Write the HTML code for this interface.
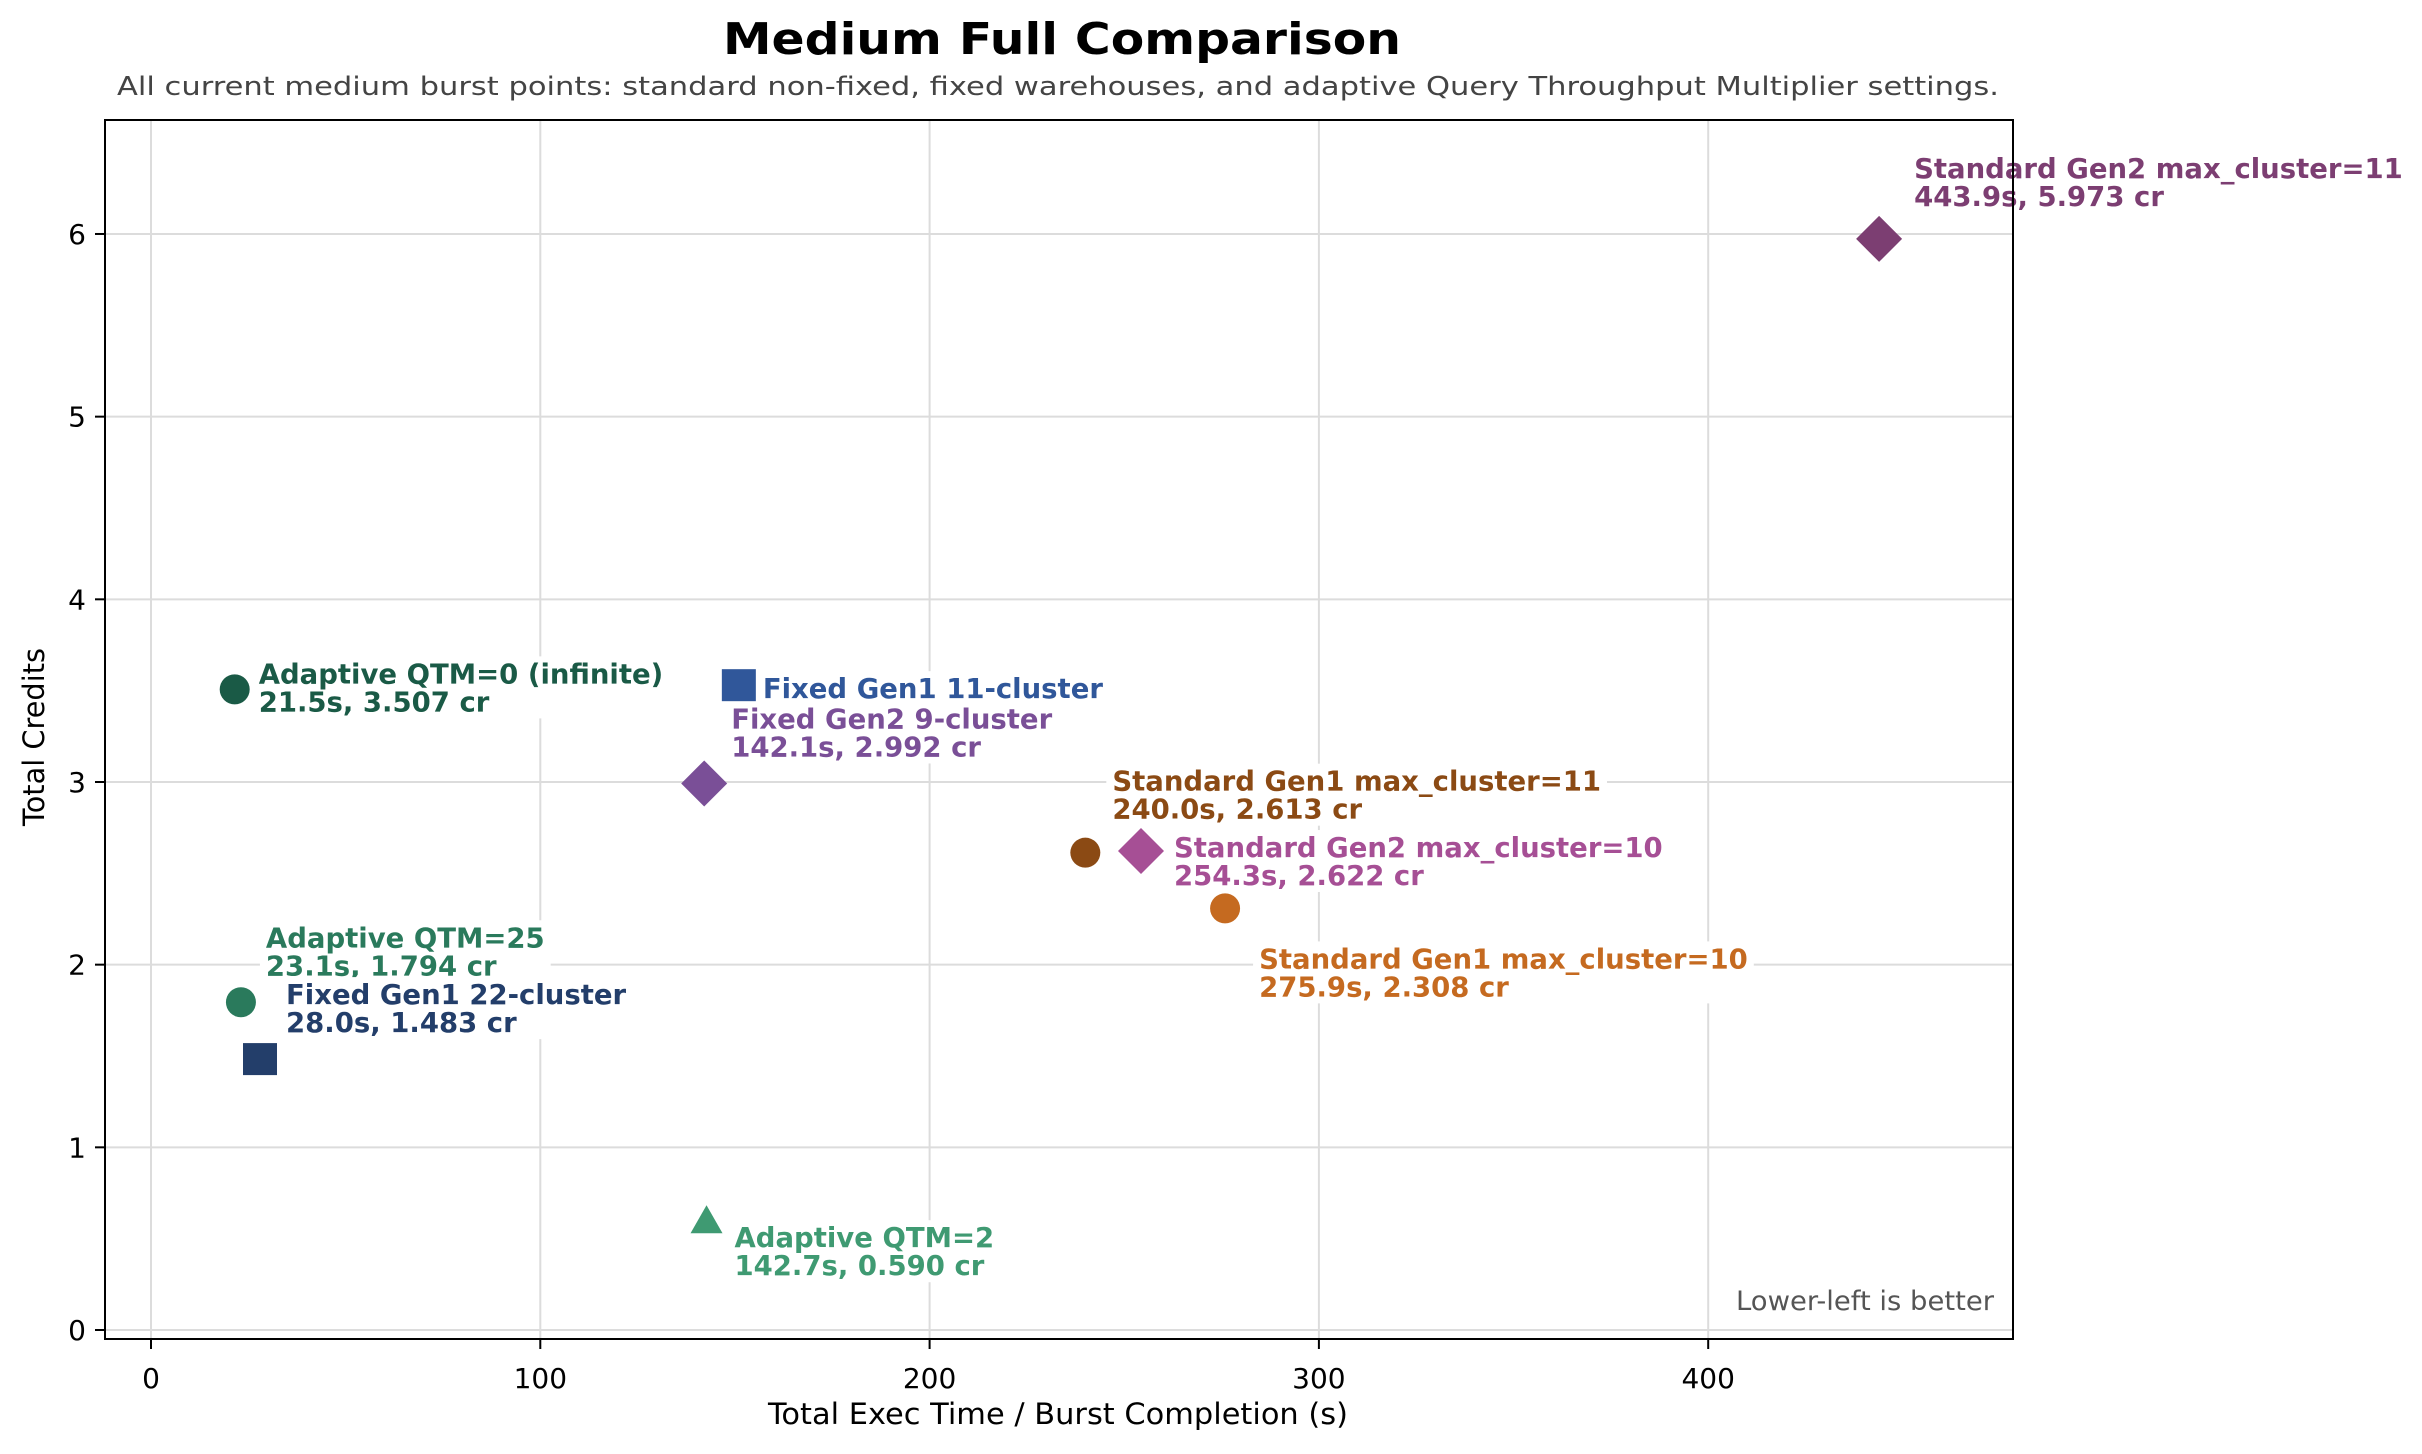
<!DOCTYPE html>
<html><head><meta charset="utf-8">
<style>
html,body{margin:0;padding:0;background:#fff;}
svg{display:block;font-family:"DejaVu Sans","Liberation Sans",sans-serif;}
</style></head>
<body>
<svg id="chart" width="2422" height="1454" viewBox="0 0 2422 1454" xmlns="http://www.w3.org/2000/svg">
<rect width="2422" height="1454" fill="#fff"/>
<text x="1062" y="54" text-anchor="middle" font-size="44" font-weight="bold" fill="#000" textLength="678" lengthAdjust="spacingAndGlyphs">Medium Full Comparison</text>
<text x="1058" y="95" text-anchor="middle" font-size="26" fill="#444" textLength="1882" lengthAdjust="spacingAndGlyphs">All current medium burst points: standard non-fixed, fixed warehouses, and adaptive Query Throughput Multiplier settings.</text>
<g id="grid"></g>
<g id="ticks"></g>
<g id="labels"></g>
<g id="marks"></g>
<rect x="105" y="120" width="1908" height="1219" fill="none" stroke="#000" stroke-width="2"/>
<text x="1058" y="1424" text-anchor="middle" font-size="29" fill="#000" textLength="580" lengthAdjust="spacingAndGlyphs">Total Exec Time / Burst Completion (s)</text>
<text transform="translate(44,737) rotate(-90)" text-anchor="middle" font-size="29" fill="#000" textLength="178" lengthAdjust="spacingAndGlyphs">Total Credits</text>
<text x="1994" y="1310" text-anchor="end" font-size="27" fill="#555" textLength="258" lengthAdjust="spacingAndGlyphs">Lower-left is better</text>
</svg>
<script>
const names = ["Adaptive QTM=0 (infinite)","Fixed Gen1 11-cluster","Fixed Gen2 9-cluster","Standard Gen1 max_cluster=11","Standard Gen2 max_cluster=10","Standard Gen1 max_cluster=10","Adaptive QTM=25","Fixed Gen1 22-cluster","Adaptive QTM=2","Standard Gen2 max_cluster=11"];
const execTimes = [21.5, 151.0, 142.1, 240.0, 254.3, 275.9, 23.1, 28.0, 142.7, 443.9];
const credits = [3.507, 3.53, 2.992, 2.613, 2.622, 2.308, 1.794, 1.483, 0.590, 5.973];
const subLabels = ["21.5s, 3.507 cr", "", "142.1s, 2.992 cr", "240.0s, 2.613 cr", "254.3s, 2.622 cr", "275.9s, 2.308 cr", "23.1s, 1.794 cr", "28.0s, 1.483 cr", "142.7s, 0.590 cr", "443.9s, 5.973 cr"];
const shapes = ["circle","square","diamond","circle","diamond","circle","circle","square","triangle","diamond"];
const colors = ["#1a5a46","#30579a","#7a4f97","#8b4a14","#a64f95","#c56a20","#2a7a5c","#233e6a","#3f9a72","#7c3e72"];
const xTicks = [0, 100, 200, 300, 400];
const yTicks = [0, 1, 2, 3, 4, 5, 6];
// label offsets in px (style)
const offX = [24, 24, 27, 27, 33, 34, 25, 26, 28, 35];
const offY = [-6, 13, -55, -62, 6, 60, -55, -55, 25, -61];

const NS = "http://www.w3.org/2000/svg";
const X = v => 151 + v * 3.893;
const Y = v => 1330 - v * 182.67;
function mk(tag, attrs, parent){const e=document.createElementNS(NS,tag);for(const k in attrs)e.setAttribute(k,attrs[k]);parent.appendChild(e);return e;}
const grid=document.getElementById('grid'), ticks=document.getElementById('ticks'), labels=document.getElementById('labels'), marks=document.getElementById('marks');
xTicks.forEach(t=>{
  const l=mk('line',{x1:X(t),x2:X(t),y1:120,y2:1339,stroke:'#dcdcdc','stroke-width':2},grid);
  
  
  mk('line',{x1:X(t),x2:X(t),y1:1339,y2:1349,stroke:'#000','stroke-width':2},ticks);
  const tx=mk('text',{x:X(t),y:1388,'text-anchor':'middle','font-size':28,fill:'#000'},ticks);
  tx.textContent=t;
  
  
});
yTicks.forEach(t=>{
  const l=mk('line',{x1:105,x2:2013,y1:Y(t),y2:Y(t),stroke:'#dcdcdc','stroke-width':2},grid);
  
  
  mk('line',{x1:95,x2:105,y1:Y(t),y2:Y(t),stroke:'#000','stroke-width':2},ticks);
  const tx=mk('text',{x:86,y:Y(t)+10,'text-anchor':'end','font-size':28,fill:'#000'},ticks);
  tx.textContent=t;
  
  
});
names.forEach((n,i)=>{
  const px=X(execTimes[i]), py=Y(credits[i]);
  const lx=px+offX[i], ly=py+offY[i];
  const g=mk('g',{},labels);
  
  
  const h=subLabels[i]?62:34;
  const r=mk('rect',{x:lx-6,y:ly-27,width:10,height:h,fill:'#fff'},g);
  const t1=mk('text',{x:lx,y:ly,'font-size':27.5,'font-weight':'bold',fill:colors[i]},g);
  t1.textContent=n;
  let w=t1.getComputedTextLength();
  if(subLabels[i]){const t2=mk('text',{x:lx,y:ly+28,'font-size':27.5,'font-weight':'bold',fill:colors[i]},g);t2.textContent=subLabels[i];w=Math.max(w,t2.getComputedTextLength());}
  r.setAttribute('width',w+12);
  let m;
  if(shapes[i]==='circle') m=mk('circle',{cx:px,cy:py,r:15,fill:colors[i]},marks);
  else if(shapes[i]==='square') m=mk('rect',{x:px-17,y:py-16,width:34,height:32,fill:colors[i]},marks);
  else if(shapes[i]==='diamond') m=mk('polygon',{points:`${px},${py-23} ${px+23},${py} ${px},${py+23} ${px-23},${py}`,fill:colors[i]},marks);
  else m=mk('polygon',{points:`${px},${py-17} ${px+16},${py+11} ${px-16},${py+11}`,fill:colors[i]},marks);
  
  
});
</script>
</body></html>
